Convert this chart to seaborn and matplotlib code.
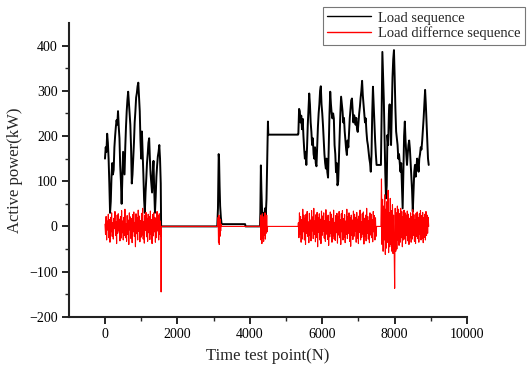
import numpy as np
import pandas as pd
import matplotlib
matplotlib.use("Agg")
import matplotlib.pyplot as plt
import seaborn as sns

# ---------------- data ----------------
# Black load sequence: segment A (test points 0..1540, step 20)
load_a_start, load_a_end = 0, 1540
load_a = [150, 175, 165, 205, 185, 150, 95, 30, 55, 110, 140, 115, 125, 175, 200,
          220, 235, 225, 255, 220, 195, 135, 100, 50, 110, 165, 140, 115, 175, 220,
          255, 280, 298, 275, 250, 225, 175, 95, 115, 150, 185, 230, 255, 285, 295,
          310, 318, 285, 255, 190, 150, 210, 165, 115, 60, 30, 75, 105, 140, 160,
          185, 195, 150, 115, 95, 75, 120, 145, 80, 30, 65, 110, 135, 155, 165,
          180, 150, 95]
# Idle / spike part between the two busy periods (breakpoints)
load_mid_x = [1550, 3100, 3120, 3140, 3150, 3165, 3180, 3200, 3220, 3870, 3880, 4280,
              4290, 4305, 4320, 4340, 4360, 4380, 4400, 4420, 4440, 4460, 4480, 4500,
              4510, 5330]
load_mid_y = [0, 0, 40, 160, 150, 90, 45, 20, 5, 5, 0, 0,
              30, 135, 80, 30, 15, 30, 20, 40, 25, 60, 150, 232,
              203, 203]
# Segment C (test points 5340..7500, step 20)
load_c1_start, load_c1_end = 5340, 7500
load_c1 = [205, 260, 255, 230, 245, 215, 238, 200, 172, 150, 165, 136, 175, 225, 260,
           294, 270, 230, 209, 180, 195, 160, 150, 175, 140, 133, 180, 220, 250, 270,
           300, 310, 270, 250, 224, 190, 160, 140, 128, 150, 120, 108, 180, 250, 298,
           270, 250, 239, 250, 239, 180, 160, 120, 140, 91, 99, 150, 200, 250, 287,
           270, 255, 230, 240, 210, 190, 170, 158, 190, 175, 210, 240, 260, 279, 283,
           255, 230, 246, 240, 225, 240, 215, 209, 230, 250, 265, 285, 300, 322, 290,
           270, 250, 230, 239, 210, 190, 180, 165, 150, 140, 121, 160, 250, 309, 268,
           230, 190, 160, 136]
# Segment C2 (test points 7620..8940, step 20)
load_c2_start, load_c2_end = 7620, 8940
load_c2 = [136, 250, 386, 330, 280, 200, 120, 62, 90, 202, 180, 250, 270, 230, 180,
           260, 330, 370, 390, 330, 260, 210, 195, 180, 150, 160, 140, 121, 140, 90,
           40, 120, 200, 232, 190, 160, 136, 160, 180, 190, 172, 140, 110, 80, 33,
           80, 120, 136, 110, 130, 150, 140, 121, 150, 160, 175, 170, 190, 215, 240,
           270, 302, 270, 230, 195, 150, 136]

# Red load difference sequence
diff_a_start, diff_a_end = 0, 1545
diff_a = [5, -18, 22, -30, 12, -8, 27, -25, 15, -35, 20, -12, 30, -22, 8, -28, 18, -5,
          33, -20, 10, -38, 25, -15, 28, -10, 16, -32, 22, -26, 35, -14, 12, -30, 20,
          -20, 38, -25, 6, -33, 24, -18, 14, -40, 30, -8, 21, -27, 17, -36, 26, -12,
          32, -22, 9, -45, 28, -16, 19, -30, 36, -11, 23, -34, 13, -24, 29, -19, 40,
          -28, 11, -37, 25, -9, 31, -23, 18, -33, 27, -14, 22, -29, 34, -17, 15, -38,
          26, -21, 30, -12, 20, -35, 17, -25, 33, -10, 24, -30, 28, -18, 12, -22]
diff_mid_x = [1548, 1550, 1552, 3110]
diff_mid_y = [0, -145, 0, 0]
diff_b_start, diff_b_end = 3115, 3215
diff_b = [0, 20, -35, 25, -40, 18, -22, 15, -10, 5, 0]
diff_mid2_x = [3220, 4280]
diff_mid2_y = [0, 0]
diff_d_start, diff_d_end = 4285, 4490
diff_d = [0, 25, -30, 20, -38, 28, -25, 15, -33, 22, -20, 30, -28, 18, -15, 25, -12, 0]
diff_mid3_x = [4495, 5335]
diff_mid3_y = [0, 0]
diff_c1_start, diff_c1_end = 5340, 7500
diff_c1 = [8, -25, 30, -18, 22, -35, 15, -28, 38, -12, 25, -30, 18, -40, 27, -15, 33,
           -22, 10, -36, 29, -20, 14, -32, 35, -10, 21, -27, 40, -18, 12, -34, 26, -24,
           31, -45, 19, -13, 28, -30, 16, -38, 34, -20, 23, -11, 30, -26, 13, -33, 37,
           -17, 20, -29, 25, -42, 11, -23, 32, -16, 27, -35, 18, -21, 36, -28, 9, -31,
           24, -14, 29, -37, 22, -19, 33, -25, 15, -40, 28, -12, 35, -30, 17, -24, 26,
           -36, 12, -18, 38, -27, 21, -15, 30, -33, 19, -44, 25, -20, 14, -29, 34, -22,
           27, -11, 20, -35, 31, -26, 16, -38, 23, -13, 36, -30, 10, -24, 28, -17, 32,
           -39, 18, -21, 25, -32, 40, -15, 22, -28, 13, -36, 30, -19, 27, -25, 15, -34,
           33, -12, 24, -30, 19, -22, 0]
diff_mid4_x = [7505, 7615]
diff_mid4_y = [0, 0]
diff_c2_start, diff_c2_end = 7620, 8940
diff_c2 = [0, 105, -40, 60, -55, 45, -30, 70, -62, 38, -48, 55, -35, 80, -58, 30, -45,
           62, -40, 35, -55, 48, -60, 25, -40, -137, 40, -55, 30, -50, 45, -30, 38, -42,
           28, -35, 40, -25, 33, -45, 22, -30, 36, -28, 30, -38, 25, -20, 34, -32, 27,
           -40, 18, -25, 30, -35, 22, -28, 37, -20, 26, -33, 15, -38, 29, -22, 32, -27,
           20, -35, 28, -18, 35, -30, 24, -26, 31, -36, 19, -24, 27, -30, 33, -20, 25,
           -15, 20, 0]

x_ticks = [0, 2000, 4000, 6000, 8000, 10000]
y_ticks = [-200, -100, 0, 100, 200, 300, 400]


def seg(start, end, vals):
    return list(np.linspace(start, end, len(vals))), list(vals)


lx, ly = [], []
for sx, sy in [seg(load_a_start, load_a_end, load_a), (load_mid_x, load_mid_y),
               seg(load_c1_start, load_c1_end, load_c1), seg(load_c2_start, load_c2_end, load_c2)]:
    lx += list(sx); ly += list(sy)
dx, dy = [], []
for sx, sy in [seg(diff_a_start, diff_a_end, diff_a), (diff_mid_x, diff_mid_y),
               seg(diff_b_start, diff_b_end, diff_b), (diff_mid2_x, diff_mid2_y),
               seg(diff_d_start, diff_d_end, diff_d), (diff_mid3_x, diff_mid3_y),
               seg(diff_c1_start, diff_c1_end, diff_c1), (diff_mid4_x, diff_mid4_y),
               seg(diff_c2_start, diff_c2_end, diff_c2)]:
    dx += list(sx); dy += list(sy)

df_load = pd.DataFrame({"x": lx, "y": ly})
df_diff = pd.DataFrame({"x": dx, "y": dy})

# ---------------- plotting ----------------
sns.set_style("ticks")
plt.rcParams["font.family"] = ["Liberation Serif", "DejaVu Serif"]

fig = plt.figure(figsize=(5.29, 3.65), dpi=100)
ax = fig.add_axes([0.130, 0.132, 0.753, 0.805])

sns.lineplot(data=df_load, x="x", y="y", ax=ax, color="black", lw=1.4,
             sort=False, estimator=None, label="Load sequence")
sns.lineplot(data=df_diff, x="x", y="y", ax=ax, color="#ff0000", lw=0.8,
             sort=False, estimator=None, label="Load differnce sequence")

ax.set_xlim(-1000, 10000)
ax.set_ylim(-200, 450)
ax.set_xticks(x_ticks)
ax.set_yticks(y_ticks)
ax.set_xticks([1000, 3000, 5000, 7000, 9000], minor=True)
ax.set_yticks([-150, -50, 50, 150, 250, 350], minor=True)
ax.tick_params(axis="both", which="major", direction="out", length=5, width=1.2,
               labelsize=10, colors="black", pad=3)
ax.tick_params(axis="both", which="minor", direction="out", length=3, width=1.0)

for s in ["top", "right"]:
    ax.spines[s].set_visible(False)
for s in ["left", "bottom"]:
    ax.spines[s].set_linewidth(1.5)
    ax.spines[s].set_color("#222222")

ax.set_xlabel("Time test point(N)", fontsize=12, labelpad=5)
ax.set_ylabel("Active power(kW)", fontsize=12, labelpad=4)

leg = ax.legend(loc="upper right", bbox_to_anchor=(0.993, 0.981),
                bbox_transform=fig.transFigure, fontsize=10.5, frameon=True,
                fancybox=False, edgecolor="#555555", borderpad=0.3,
                labelspacing=0.15, handlelength=3.0, handletextpad=0.5,
                borderaxespad=0)
leg.get_frame().set_linewidth(0.8)
for h in leg.get_lines():
    h.set_linewidth(1.0)

fig.savefig("out.png", dpi=100)
